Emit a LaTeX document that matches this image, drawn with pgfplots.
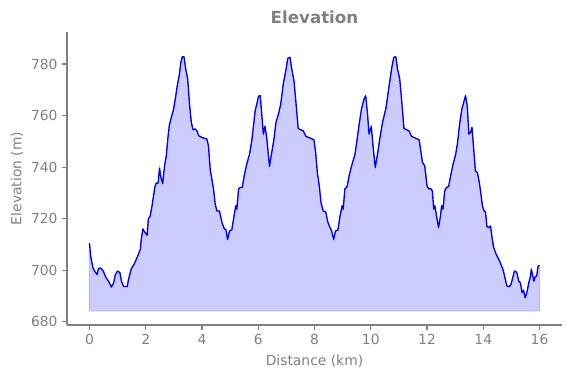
\documentclass[border=0pt]{standalone}
\usepackage{pgfplots}
\pgfplotsset{compat=1.18}
\usepackage{pgfplotstable}
\usepgfplotslibrary{fillbetween}
\usepackage{fontspec}
\setmainfont{DejaVu Sans}
\definecolor{txt}{RGB}{128,128,128}
\definecolor{fillc}{RGB}{204,204,255}
\definecolor{edgec}{RGB}{185,185,255}
\pgfplotstableread{
x y
0.00 710.5
0.04 705.6
0.12 701.0
0.19 699.5
0.27 698.4
0.32 700.7
0.39 700.9
0.49 699.7
0.57 697.5
0.69 695.5
0.78 693.5
0.86 695.2
0.92 698.4
1.00 699.7
1.08 699.1
1.14 695.6
1.22 693.7
1.34 693.7
1.39 696.5
1.48 700.4
1.60 702.7
1.69 704.9
1.81 708.2
1.84 712.0
1.90 716.0
1.96 714.9
2.05 713.6
2.09 719.8
2.16 721.1
2.23 725.4
2.32 732.1
2.37 733.8
2.44 733.8
2.49 739.6
2.54 736.0
2.60 733.7
2.67 740.5
2.73 744.4
2.79 751.5
2.84 756.3
2.91 759.3
2.99 762.5
3.05 766.4
3.13 772.2
3.19 775.5
3.25 780.7
3.30 782.8
3.36 782.8
3.41 778.7
3.49 774.2
3.56 763.8
3.62 757.4
3.68 754.5
3.76 754.8
3.82 754.1
3.88 752.2
4.00 751.5
4.17 750.9
4.23 748.3
4.29 739.2
4.35 735.3
4.41 731.5
4.47 725.6
4.53 723.0
4.62 723.0
4.71 718.5
4.79 716.2
4.85 715.7
4.91 712.0
4.98 715.3
5.06 715.7
5.14 721.1
5.20 725.0
5.24 723.7
5.30 731.5
5.36 732.1
5.43 732.1
5.50 736.6
5.59 741.2
5.69 745.0
5.77 750.2
5.83 756.0
5.89 761.9
5.95 764.5
6.01 767.5
6.07 767.7
6.13 759.9
6.18 752.8
6.24 755.8
6.30 751.5
6.40 740.3
6.48 745.7
6.56 750.9
6.63 757.4
6.72 760.6
6.80 764.5
6.89 772.2
6.98 777.4
7.05 782.2
7.13 782.6
7.19 778.1
7.27 773.5
7.34 765.1
7.42 755.0
7.51 754.5
7.60 754.1
7.70 751.9
7.84 751.3
7.98 750.6
8.04 745.7
8.10 737.9
8.17 732.7
8.23 726.3
8.31 723.0
8.40 722.6
8.47 718.8
8.55 716.6
8.61 715.3
8.68 712.0
8.75 715.3
8.83 715.5
8.90 720.5
8.98 725.0
9.02 723.7
9.08 731.5
9.16 732.5
9.23 736.6
9.32 740.5
9.44 745.0
9.50 749.6
9.59 756.7
9.67 762.5
9.76 766.4
9.82 767.7
9.88 761.2
9.94 752.8
10.02 755.8
10.08 748.3
10.16 739.9
10.24 745.0
10.32 750.9
10.42 757.4
10.54 762.8
10.62 769.0
10.68 773.5
10.75 778.7
10.82 782.6
10.89 782.8
10.95 778.1
11.03 774.2
11.11 764.5
11.18 755.0
11.27 754.5
11.36 754.1
11.45 751.9
11.56 751.4
11.72 750.6
11.77 747.0
11.84 741.8
11.92 740.5
12.00 732.7
12.07 731.5
12.13 731.7
12.19 730.8
12.24 723.7
12.28 725.0
12.33 721.7
12.41 716.6
12.48 721.1
12.52 725.0
12.57 723.7
12.63 730.8
12.69 732.1
12.77 732.5
12.84 736.6
12.92 740.8
13.02 745.0
13.08 748.9
13.16 756.7
13.24 762.5
13.32 765.7
13.37 767.7
13.43 763.8
13.49 752.8
13.55 753.5
13.60 755.4
13.66 747.0
13.72 738.6
13.79 737.9
13.85 734.7
13.91 730.2
13.97 725.0
14.03 723.0
14.08 722.6
14.13 717.0
14.20 716.6
14.26 717.2
14.32 712.0
14.37 708.8
14.46 706.2
14.58 703.6
14.70 700.4
14.77 697.2
14.84 693.9
14.93 693.7
14.99 694.6
15.05 697.2
15.11 699.7
15.19 699.3
15.26 695.8
15.32 695.2
15.38 691.3
15.43 692.3
15.49 689.4
15.55 691.3
15.62 695.2
15.67 697.2
15.71 700.4
15.76 697.8
15.80 695.8
15.85 697.6
15.90 697.8
15.95 701.7
16.00 701.9
}\elev
\begin{document}
\begin{tikzpicture}
\begin{axis}[
  at={(0,0)}, anchor=south west,
  scale only axis,
  width=371.25pt, height=219.75pt,
  xmin=-0.8, xmax=16.8,
  ymin=678.8, ymax=792.4,
  xtick={0,2,...,16},
  ytick={680,700,...,780},
  axis x line*=bottom,
  axis y line*=left,
  axis line style={txt, line width=0.8pt},
  tick align=outside,
  xtick align=outside,
  ytick align=outside,
  major tick length=3.6pt,
  tick style={txt, line width=0.8pt},
  /pgf/number format/assume math mode=true,
  /pgf/number format/1000 sep={},
  ticklabel style={font=\fontsize{10.4}{12}\selectfont, text=txt},
  xlabel={Distance (km)},
  ylabel={Elevation (m)},
  label style={font=\fontsize{10.4}{12}\selectfont, text=txt},
  xlabel style={at={(axis description cs:0.5,-0.123)}, anchor=center},
  ylabel style={at={(axis description cs:-0.101,0.5)}, anchor=center},
  title={Elevation},
  title style={font=\fontsize{12.5}{14}\selectfont\bfseries, text=txt,
    at={(axis description cs:0.5,1.0)}, anchor=base},
]
\addplot[name path=A, draw=none, forget plot] table[x=x,y=y] {\elev};
\addplot[name path=B, draw=none, forget plot] coordinates {(0,684.3) (16,684.3)};
\addplot[fill=fillc, draw=edgec, line width=0.8pt] fill between[of=A and B];
\addplot[blue, line width=1pt, line join=round] table[x=x,y=y] {\elev};
\end{axis}
\path (-50.25pt,-39.75pt) rectangle (378pt,243.75pt);
\end{tikzpicture}
\end{document}
